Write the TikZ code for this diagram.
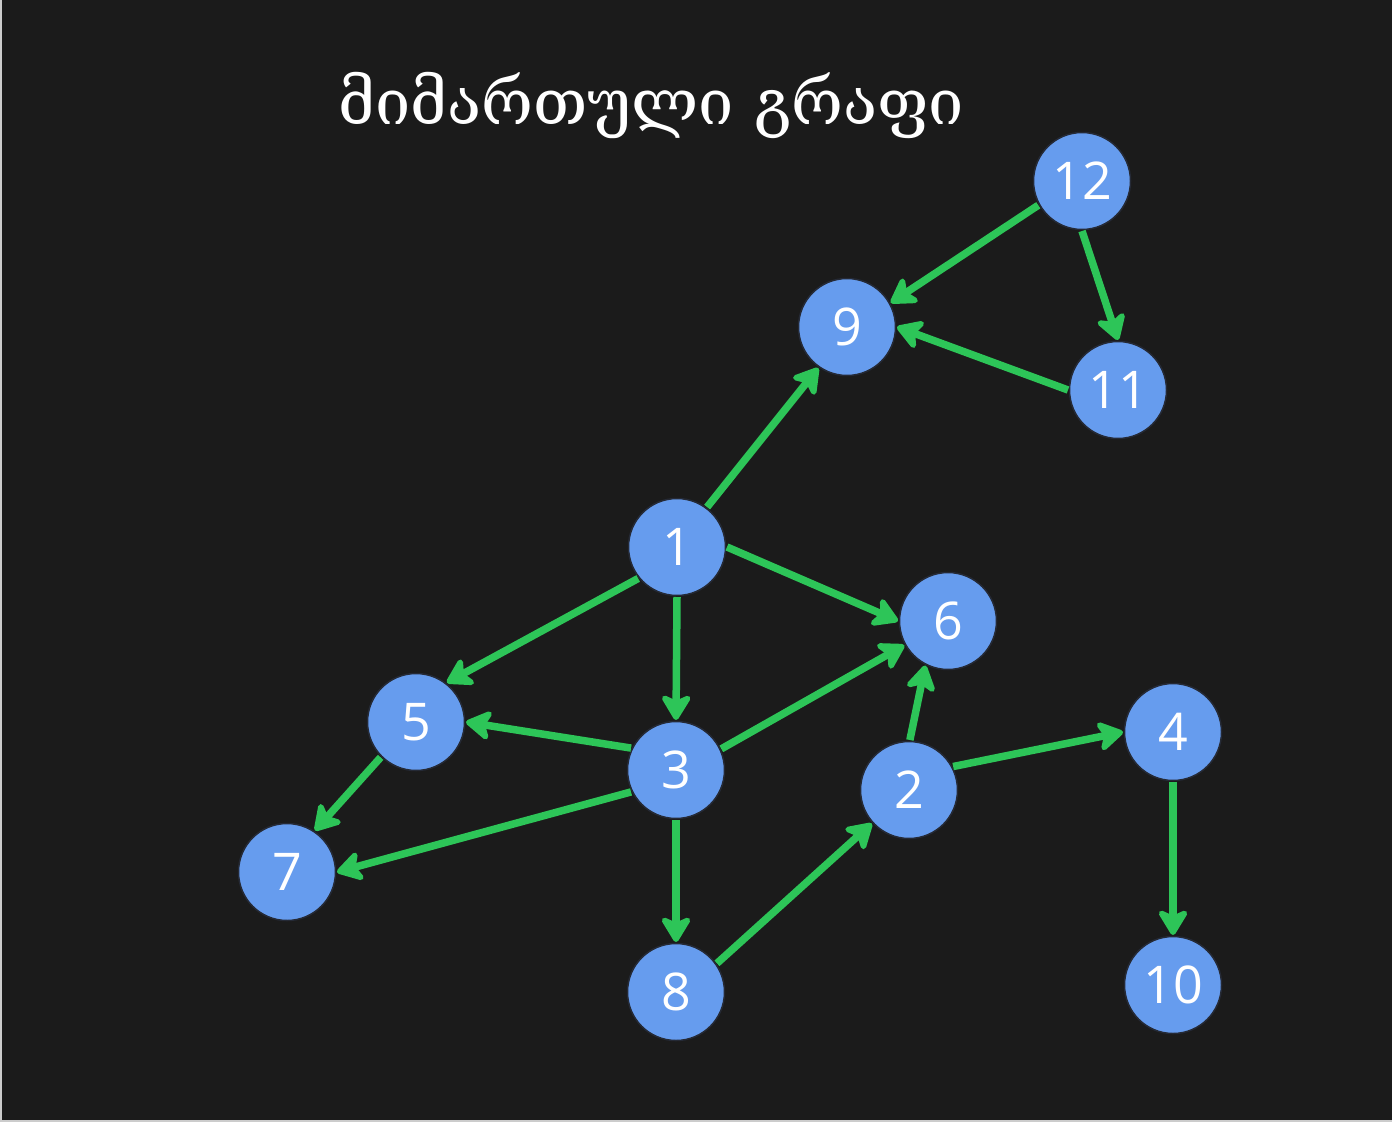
\documentclass[tikz,border=0pt]{standalone}
\usepackage{fontspec}
\setmainfont{Open Sans}
\newfontfamily\geofont[Script=Georgian]{DejaVu Serif}
\usetikzlibrary{arrows.meta}
\definecolor{bgc}{HTML}{1B1B1B}
\definecolor{nodec}{HTML}{669CEE}
\definecolor{edgec}{HTML}{2DC558}
\definecolor{rimc}{HTML}{252A36}
\tikzset{
  vert/.style={circle, fill=nodec, draw=rimc, line width=1.5pt, minimum size=97pt, inner sep=0pt, text=white, font=\fontsize{52}{52}\selectfont, outer sep=1.5pt},
  edge/.style={draw=edgec, line width=7.5pt, -{Stealth[length=30pt, width=36pt, inset=8pt, round]}}
}
\begin{document}
\begin{tikzpicture}[x=1pt,y=-1pt]
\fill[gray!40] (0,0) rectangle (1392,1122);
\fill[bgc] (2,0) rectangle (1392,1120);
\useasboundingbox (0,0) rectangle (1392,1122);
\node[text=white, font=\geofont\fontsize{63}{63}\selectfont, anchor=base] (title) at (651,124) {მიმართული გრაფი};
\node[vert] (n1) at (677,547) {1};
\node[vert] (n2) at (909,790) {2};
\node[vert] (n3) at (676,770) {3};
\node[vert] (n4) at (1173,732) {4};
\node[vert] (n5) at (416,722) {5};
\node[vert] (n6) at (948,621) {6};
\node[vert] (n7) at (287,872) {7};
\node[vert] (n8) at (676,992) {8};
\node[vert] (n9) at (847,327) {9};
\node[vert] (n10) at (1173,985) {10};
\node[vert] (n11) at (1118,390) {11};
\node[vert] (n12) at (1082,181) {12};
\draw[edge] (n1.53) -- (n9.235);
\draw[edge] (n1.0) -- (n6.180);
\draw[edge] (n1.270) -- (n3.90);
\draw[edge] (n1.219) -- (n5.52);
\draw[edge] (n3.154) -- (n5.0);
\draw[edge] (n3.25) -- (n6.209);
\draw[edge] (n3.206) -- (n7.0);
\draw[edge] (n3.270) -- (n8.90);
\draw[edge] (n5.225) -- (n7.56);
\draw[edge] (n8.35) -- (n2.222);
\draw[edge] (n2.89) -- (n6.243);
\draw[edge] (n2.28) -- (n4.180);
\draw[edge] (n4.270) -- (n10.90);
\draw[edge] (n12.209) -- (n9.29);
\draw[edge] (n12.270) -- (n11.90);
\draw[edge] (n11.180) -- (n9.0);
\end{tikzpicture}
\end{document}
